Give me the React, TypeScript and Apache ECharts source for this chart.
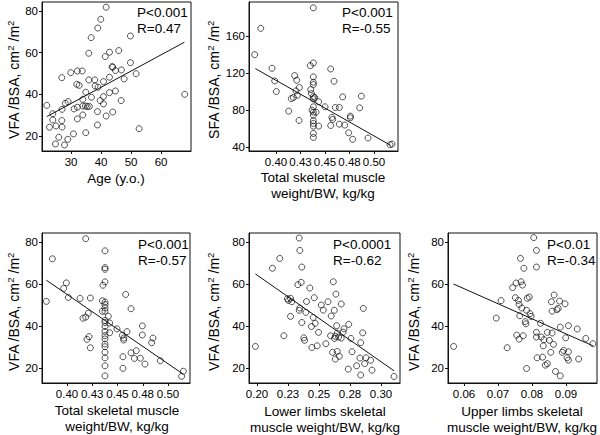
import React, { useEffect, useRef } from "react";
import * as echarts from "echarts";

// ---------- Data ----------
// Panel 1: Age vs VFA/BSA
const ageX = [21.9, 23.9, 22.8, 23.9, 25, 24.8, 25.9, 26.9, 26.9, 27, 27, 27.8, 28.1, 29, 28.9, 29.9, 30.8, 31, 31.9, 32.1, 32.7, 32.1, 32.1, 33.7, 33.9, 33.9, 33.9, 34.9, 34.8, 34.9, 35.4, 35.9, 35.9, 36.1, 36.7, 36.8, 37.9, 38, 38.9, 38.8, 38.8, 39, 39.9, 39.7, 40.8, 40.8, 40.8, 41.7, 41.4, 41.7, 42.8, 42.8, 42.8, 43.7, 43.9, 43.9, 44.8, 44.8, 45.9, 46.8, 46.7, 47.7, 49.8, 49.8, 51.7, 52.7, 67.9];
const vfaAgeY = [34.7, 30.7, 24.2, 27.7, 24.8, 16.2, 19.4, 48, 27.4, 24.3, 32.8, 15.7, 35.7, 36.5, 18.4, 50.4, 21, 33, 44.8, 51.2, 44.3, 33.8, 28.2, 51.2, 37.6, 30.1, 34.4, 41, 34.4, 21.6, 34.1, 59.7, 46.9, 34.2, 67.2, 38.6, 46.9, 44, 71.8, 31.7, 25.3, 43.4, 76, 37, 46.1, 38.9, 35.4, 81.8, 58.1, 29.6, 60.2, 48.2, 40.8, 53.3, 53, 31.5, 51.4, 41.6, 61, 51.7, 37, 47.4, 68, 55.2, 49.9, 23.5, 40];
const fitAgeX = [21.9, 67.8];
const fitAgeY = [29.3, 65];

// Panel 2: Total skeletal muscle weight/BW vs SFA/BSA
const tsmSfaX = [0.3782, 0.3844, 0.3959, 0.3986, 0.4003, 0.4129, 0.4156, 0.4177, 0.419, 0.4211, 0.4204, 0.4218, 0.4238, 0.4235, 0.4381, 0.435, 0.4381, 0.4381, 0.4381, 0.4381, 0.4354, 0.4361, 0.4381, 0.4381, 0.4395, 0.4381, 0.4367, 0.4381, 0.4408, 0.4381, 0.4381, 0.4381, 0.4381, 0.4381, 0.4381, 0.4435, 0.4435, 0.45, 0.4558, 0.4592, 0.4571, 0.4578, 0.4558, 0.4605, 0.4646, 0.4646, 0.468, 0.4701, 0.4741, 0.4759, 0.4759, 0.4782, 0.4854, 0.4871, 0.4939, 0.5163, 0.5184];
const sfaY = [139.9, 168.3, 125.1, 111.5, 100, 78.8, 92.4, 93.5, 117.2, 112.2, 100.7, 96, 104.3, 68.7, 190.5, 128, 130.9, 115.8, 110, 107.5, 102.1, 97.8, 94.6, 92.1, 93.5, 83.5, 79.9, 77.7, 77.7, 74.5, 68.4, 65.5, 62.6, 54.7, 50.4, 88.9, 62.6, 83.5, 124.4, 111.1, 72, 69.8, 63.3, 82.7, 82.7, 64.7, 94.2, 63.7, 55.4, 73.4, 71.6, 48.3, 82.4, 95, 49.7, 42.5, 43.2];
const fitSfaX = [0.3789, 0.517];
const fitSfaY = [124.8, 41.8];

// Panel 3: Total skeletal muscle weight/BW vs VFA/BSA
const tsmVfaX = [0.3795, 0.3855, 0.3967, 0.3993, 0.4013, 0.4129, 0.4158, 0.4185, 0.4185, 0.4211, 0.4231, 0.4218, 0.4198, 0.4231, 0.435, 0.435, 0.4356, 0.4376, 0.4376, 0.4376, 0.4376, 0.4376, 0.4376, 0.4376, 0.4376, 0.4376, 0.4376, 0.4376, 0.4376, 0.4376, 0.4376, 0.4376, 0.4376, 0.4376, 0.4376, 0.4376, 0.4376, 0.4409, 0.4422, 0.4422, 0.4495, 0.4548, 0.4561, 0.4561, 0.4581, 0.4594, 0.4554, 0.4554, 0.4634, 0.4634, 0.4667, 0.4686, 0.4726, 0.4746, 0.4746, 0.4772, 0.4838, 0.4851, 0.4924, 0.5135, 0.5152];
const vfaTsmY = [51.7, 72, 57.9, 60.5, 53.6, 53.1, 43.7, 44.2, 81.6, 46.1, 53.3, 34.9, 33.6, 29.6, 52, 47, 59.4, 61, 75.8, 67.8, 67, 51.4, 50.2, 48.6, 47, 42.6, 41.6, 39.7, 37.4, 35.4, 33.8, 31.4, 30.1, 27.4, 24.8, 21, 16.2, 44.6, 41.4, 36.8, 38.6, 35.5, 34.2, 33.3, 55, 37.3, 25.3, 19.8, 48.2, 27.2, 24.5, 28.2, 24.6, 40, 35.7, 21.8, 32, 34.2, 23.4, 16, 18.4];
const fitTsmX = [0.3795, 0.5142];
const fitTsmY = [61.8, 17.3];

// Panel 4: Lower limbs skeletal muscle weight/BW vs VFA/BSA
const llX = [0.1987, 0.2124, 0.2183, 0.2216, 0.2245, 0.2253, 0.227, 0.228, 0.227, 0.2329, 0.234, 0.2345, 0.2345, 0.234, 0.2356, 0.2361, 0.2361, 0.2377, 0.2383, 0.2394, 0.2399, 0.2426, 0.2439, 0.2442, 0.2453, 0.2461, 0.2469, 0.2485, 0.2496, 0.2518, 0.2534, 0.2555, 0.2572, 0.2593, 0.2598, 0.2609, 0.2615, 0.2623, 0.2636, 0.2631, 0.2625, 0.2631, 0.2642, 0.2647, 0.2647, 0.2658, 0.2663, 0.2679, 0.2679, 0.2695, 0.2701, 0.2739, 0.2736, 0.2757, 0.2766, 0.2803, 0.283, 0.2836, 0.2836, 0.2852, 0.2857, 0.2868, 0.2879, 0.2916, 0.2927, 0.3105];
const vfaLlY = [30.3, 67.5, 72.2, 35.4, 53, 52.2, 53.2, 51.6, 44.6, 59.7, 81.9, 76, 48.6, 47.5, 60.8, 68.1, 41.7, 34.4, 33.2, 46.5, 51.7, 58.1, 39.8, 29.8, 44.1, 53.5, 41.3, 30.6, 37, 50, 47.6, 31.6, 51.6, 35.4, 44.8, 27.5, 61.1, 47.5, 55.2, 35.1, 34.1, 24.3, 40.2, 36.7, 27.9, 34.8, 25.6, 50.5, 34.3, 37.1, 38.7, 40.8, 19.5, 34.1, 27.8, 21.1, 24.8, 32.1, 16.7, 36.8, 48.4, 22.1, 24.9, 23.7, 19, 16];
const fitLlX = [0.1987, 0.3105];
const fitLlY = [64.8, 18.7];

// Panel 5: Upper limbs skeletal muscle weight/BW vs VFA/BSA
const ulX = [0.05695, 0.0695, 0.0709, 0.0727, 0.0743, 0.0751, 0.0753, 0.0755, 0.076, 0.0762, 0.0762, 0.0764, 0.0766, 0.0768, 0.0772, 0.077, 0.0774, 0.0776, 0.078, 0.0782, 0.0784, 0.0784, 0.0786, 0.0792, 0.0794, 0.0797, 0.0805, 0.0813, 0.0813, 0.0813, 0.0813, 0.0815, 0.0825, 0.0827, 0.0831, 0.0833, 0.0835, 0.0839, 0.0845, 0.0845, 0.0851, 0.0855, 0.0857, 0.0859, 0.0859, 0.0863, 0.0865, 0.0869, 0.0873, 0.0877, 0.0881, 0.0883, 0.0883, 0.0889, 0.0893, 0.0897, 0.0899, 0.0903, 0.0907, 0.0907, 0.0907, 0.0933, 0.0937, 0.0958, 0.0979];
const vfaUlY = [30.3, 43.8, 52.1, 29.7, 58.3, 53.5, 60.5, 35.7, 52.2, 50.3, 33.8, 44.9, 72.2, 61.1, 59.5, 48.6, 35.4, 67.5, 42.1, 41.1, 47.5, 19.8, 53.2, 53.8, 45.9, 44.6, 82.1, 76, 68.1, 37, 34.8, 24.9, 41.3, 34.8, 25.2, 30.6, 33.5, 21.4, 37, 22.1, 33.2, 27.5, 51.6, 47.1, 36.7, 31.3, 54.8, 18.4, 47.8, 48.4, 51.9, 16.3, 39.5, 27.5, 28.4, 50.6, 34.4, 24.9, 27.8, 40.2, 23.8, 38.6, 24.3, 34.1, 31.6];
const fitUlX = [0.05695, 0.0979];
const fitUlY = [60, 30.6];

// Tick values and labels
const ageTicks = [30, 40, 50, 60];
const ageTickLabels = ["30", "40", "50", "60"];
const vfaTicks = [20, 40, 60, 80];
const vfaTickLabels = ["20", "40", "60", "80"];
const sfaTicks = [40, 80, 120, 160];
const sfaTickLabels = ["40", "80", "120", "160"];
const tsmTicks = [0.4, 0.425, 0.45, 0.475, 0.5];
const tsmTickLabels = ["0.40", "0.43", "0.45", "0.48", "0.50"];
const llTicks = [0.2, 0.225, 0.25, 0.275, 0.3];
const llTickLabels = ["0.20", "0.23", "0.25", "0.28", "0.30"];
const ulTicks = [0.06, 0.07, 0.08, 0.09];
const ulTickLabels = ["0.06", "0.07", "0.08", "0.09"];

// Texts
const xTitles = [
  ["Age (y.o.)"],
  ["Total skeletal muscle", "weight/BW, kg/kg"],
  ["Total skeletal muscle", "weight/BW, kg/kg"],
  ["Lower limbs skeletal", "muscle weight/BW, kg/kg"],
  ["Upper limbs skeletal", "muscle weight/BW, kg/kg"],
];
const yTitlePrefix = ["VFA", "SFA", "VFA", "VFA", "VFA"];
const pTexts = ["P<0.001", "P<0.001", "P<0.001", "P<0.0001", "P<0.01"];
const rTexts = ["R=0.47", "R=-0.55", "R=-0.57", "R=-0.62", "R=-0.34"];

const FONT = '"Liberation Sans", Arial, Helvetica, sans-serif';
const INK = "#111";

// Layout per panel
const layout = [
  { left: 42, top: 2, width: 149, height: 149, xMin: 20.3, xMax: 70, yMin: 12.8, yMax: 84.3, yt: { x: 13, y: 80 }, xt: { x: 116, y: 178 }, pr: { x: 137, y: 12 } },
  { left: 249, top: 2, width: 149, height: 149, xMin: 0.3724, xMax: 0.5245, yMin: 35.7, yMax: 196.8, yt: { x: 213, y: 80 }, xt: { x: 323, y: 177 }, pr: { x: 342, y: 12 } },
  { left: 42, top: 233, width: 148, height: 150, xMin: 0.3752, xMax: 0.5218, yMin: 12.8, yMax: 84.3, yt: { x: 13, y: 312 }, xt: { x: 117, y: 410 }, pr: { x: 138, y: 244 } },
  { left: 249, top: 233, width: 151, height: 150, xMin: 0.1935, xMax: 0.3153, yMin: 12.9, yMax: 84.3, yt: { x: 213, y: 312 }, xt: { x: 325, y: 411 }, pr: { x: 333, y: 244 } },
  { left: 448, top: 233, width: 149, height: 150, xMin: 0.0553, xMax: 0.0991, yMin: 12.9, yMax: 84.3, yt: { x: 413, y: 312 }, xt: { x: 522, y: 411 }, pr: { x: 547, y: 244 } },
];

const xs = [ageX, tsmSfaX, tsmVfaX, llX, ulX];
const ys = [vfaAgeY, sfaY, vfaTsmY, vfaLlY, vfaUlY];
const fitXs = [fitAgeX, fitSfaX, fitTsmX, fitLlX, fitUlX];
const fitYs = [fitAgeY, fitSfaY, fitTsmY, fitLlY, fitUlY];
const xTicks = [ageTicks, tsmTicks, tsmTicks, llTicks, ulTicks];
const xTickLabels = [ageTickLabels, tsmTickLabels, tsmTickLabels, llTickLabels, ulTickLabels];
const yTicks = [vfaTicks, sfaTicks, vfaTicks, vfaTicks, vfaTicks];
const yTickLabels = [vfaTickLabels, sfaTickLabels, vfaTickLabels, vfaTickLabels, vfaTickLabels];

function labelFor(ticks: number[], labels: string[]) {
  return (v: number) => {
    let best = 0;
    for (let i = 1; i < ticks.length; i++) {
      if (Math.abs(ticks[i] - v) < Math.abs(ticks[best] - v)) best = i;
    }
    return labels[best];
  };
}

function buildOption() {
  const grid = layout.map((l) => ({
    left: l.left, top: l.top, width: l.width, height: l.height,
    show: true, borderColor: INK, borderWidth: 1, backgroundColor: "transparent",
  }));
  const axisCommon = {
    type: "value",
    axisLine: { show: true, onZero: false, lineStyle: { color: INK, width: 1 } },
    splitLine: { show: false },
  };
  const xAxis = layout.map((l, i) => ({
    ...axisCommon,
    gridIndex: i,
    min: l.xMin, max: l.xMax,
    axisTick: { show: true, length: 3, customValues: xTicks[i], lineStyle: { color: INK } },
    axisLabel: {
      customValues: xTicks[i], formatter: labelFor(xTicks[i], xTickLabels[i]),
      fontSize: 11.5, color: "#000", margin: 5, fontFamily: FONT,
    },
  }));
  const yAxis = layout.map((l, i) => ({
    ...axisCommon,
    gridIndex: i,
    min: l.yMin, max: l.yMax,
    axisTick: { show: true, length: 3, customValues: yTicks[i], lineStyle: { color: INK } },
    axisLabel: {
      customValues: yTicks[i], formatter: labelFor(yTicks[i], yTickLabels[i]),
      fontSize: 11.5, color: "#000", margin: 4, fontFamily: FONT,
    },
  }));
  const series: any[] = [];
  layout.forEach((_, i) => {
    series.push({
      type: "scatter", xAxisIndex: i, yAxisIndex: i, silent: true,
      symbol: "circle", symbolSize: 6,
      itemStyle: { color: "rgba(0,0,0,0)", borderColor: INK, borderWidth: 0.9 },
      data: xs[i].map((x, k) => [x, ys[i][k]]),
    });
    series.push({
      type: "line", xAxisIndex: i, yAxisIndex: i, silent: true,
      showSymbol: false, symbol: "none",
      lineStyle: { color: INK, width: 1 },
      data: fitXs[i].map((x, k) => [x, fitYs[i][k]]),
    });
  });

  const graphic: any[] = [];
  layout.forEach((l, i) => {
    // y-axis title (rotated, with superscripts)
    graphic.push({
      type: "text", x: l.yt.x, y: l.yt.y, rotation: Math.PI / 2, silent: true,
      style: {
        text: `{a|${yTitlePrefix[i]} /BSA, cm}{b|2}{a| /m}{b|2}`,
        align: "center", verticalAlign: "middle",
        rich: {
          a: { fontSize: 14, fontFamily: FONT, fill: "#000", lineHeight: 16, verticalAlign: "bottom" },
          b: { fontSize: 9.5, fontFamily: FONT, fill: "#000", lineHeight: 16, verticalAlign: "top" },
        },
      },
    });
    // x-axis title lines
    xTitles[i].forEach((t, k) => {
      graphic.push({
        type: "text", x: l.xt.x, y: l.xt.y + k * 16.5, silent: true,
        style: { text: t, fontSize: 13.5, fontFamily: FONT, fill: "#000", align: "center", verticalAlign: "middle" },
      });
    });
    // P and R annotations
    graphic.push({
      type: "text", x: l.pr.x, y: l.pr.y, silent: true,
      style: { text: pTexts[i], fontSize: 13.5, fontFamily: FONT, fill: "#000", align: "left", verticalAlign: "middle" },
    });
    graphic.push({
      type: "text", x: l.pr.x, y: l.pr.y + 16.5, silent: true,
      style: { text: rTexts[i], fontSize: 13.5, fontFamily: FONT, fill: "#000", align: "left", verticalAlign: "middle" },
    });
  });

  return {
    animation: false,
    backgroundColor: "#fff",
    grid, xAxis, yAxis, series, graphic,
  };
}

export default function App() {
  const ref = useRef<HTMLDivElement>(null);
  useEffect(() => {
    if (!ref.current) return;
    const chart = echarts.init(ref.current, undefined, { renderer: "svg" });
    chart.setOption(buildOption() as any);
    return () => chart.dispose();
  }, []);
  return (
    <div
      ref={ref}
      style={{ position: "fixed", left: 0, top: 0, width: 600, height: 435, background: "#fff" }}
    />
  );
}
